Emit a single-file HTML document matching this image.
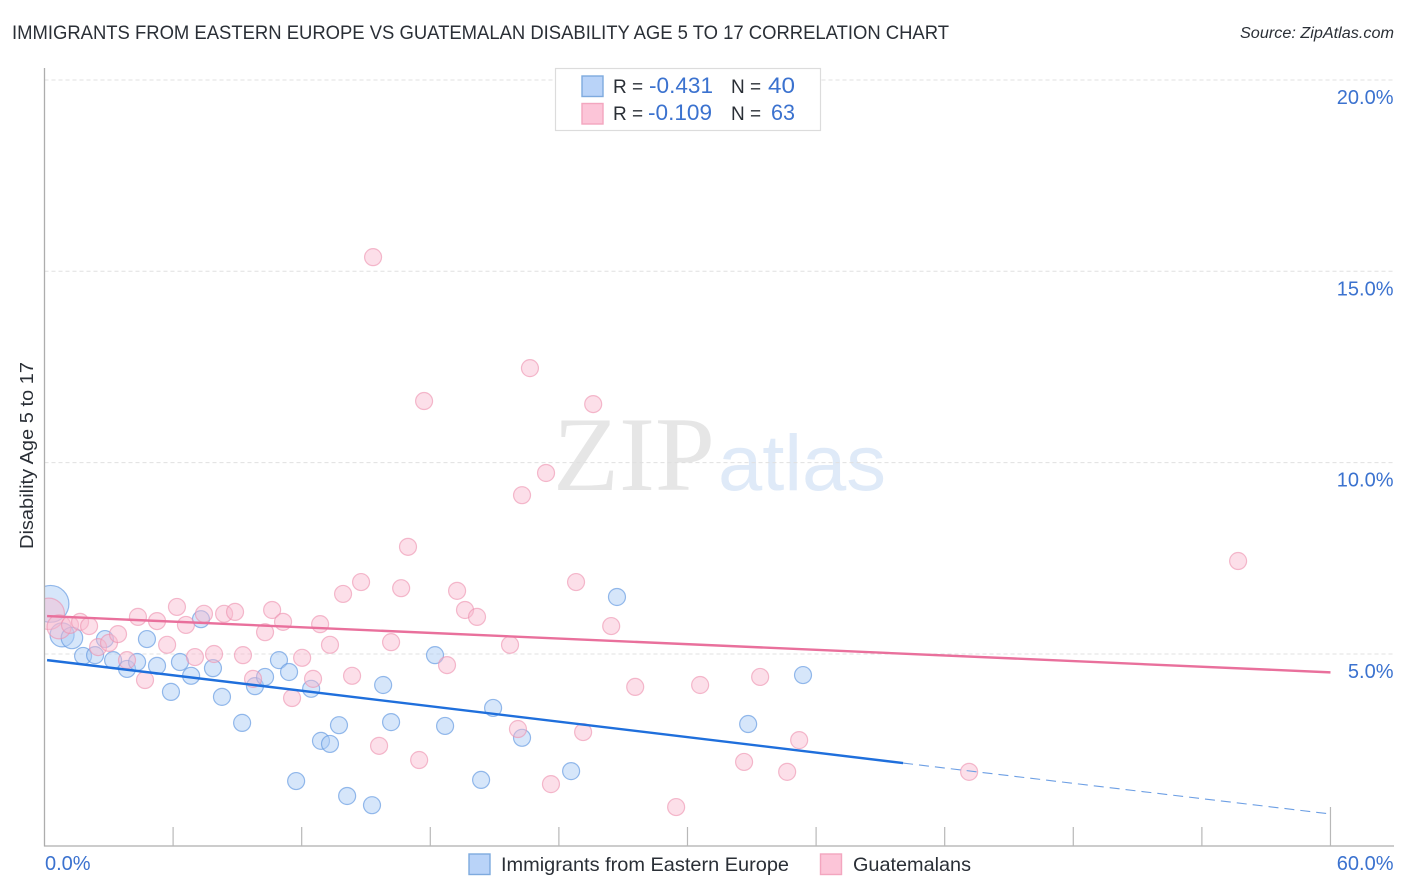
<!DOCTYPE html>
<html>
<head>
<meta charset="utf-8">
<title>Immigrants from Eastern Europe vs Guatemalan Disability Age 5 to 17 Correlation Chart</title>
<style>
html,body{margin:0;padding:0;background:#fff;width:1406px;height:892px;overflow:hidden}
svg{display:block}
text{font-family:"Liberation Sans",sans-serif}
</style>
</head>
<body>
<svg id="chart" width="1406" height="892" viewBox="0 0 1406 892" xmlns="http://www.w3.org/2000/svg">
  <defs>
    <clipPath id="plot-clip"><rect x="45" y="60" width="1349" height="786"/></clipPath>
  </defs>
  <text x="12" y="39" font-size="19.5" fill="#2a2f36" textLength="937" lengthAdjust="spacingAndGlyphs">IMMIGRANTS FROM EASTERN EUROPE VS GUATEMALAN DISABILITY AGE 5 TO 17 CORRELATION CHART</text>
  <text x="1394" y="38" font-size="15.5" font-style="italic" fill="#2a2f36" text-anchor="end" textLength="154" lengthAdjust="spacingAndGlyphs">Source: ZipAtlas.com</text>
  <text x="33" y="455.5" font-size="18" fill="#2a2f36" text-anchor="middle" transform="rotate(-90 33 455.5)" textLength="187" lengthAdjust="spacingAndGlyphs">Disability Age 5 to 17</text>
  <text x="553" y="490" font-size="106" fill="#e6e6e6" textLength="162" lengthAdjust="spacingAndGlyphs" style="font-family:'Liberation Serif',serif">ZIP</text>
  <text x="718" y="490" font-size="79" fill="#dfeaf8" textLength="168" lengthAdjust="spacingAndGlyphs">atlas</text>
  <g id="grid"></g>
  <g id="blue-points" clip-path="url(#plot-clip)"></g>
  <g id="pink-points" clip-path="url(#plot-clip)"></g>
  <g id="axes"></g>
  <g id="trends"></g>
  <g id="labels"></g>

  <g>
    <rect x="555.5" y="68.5" width="265" height="62" fill="#fff" stroke="#dcdcdc" stroke-width="1.2"/>
    <rect x="582" y="76" width="21" height="20.5" fill="#b9d3f8" stroke="#7eaade" stroke-width="1.4"/>
    <text x="613" y="93" font-size="19" fill="#2a2f36">R =</text>
    <text x="649" y="93" font-size="22" fill="#3b72cf" textLength="64" lengthAdjust="spacingAndGlyphs">-0.431</text>
    <text x="731" y="93" font-size="19" fill="#2a2f36">N =</text>
    <text x="768" y="93" font-size="22" fill="#3b72cf" textLength="27" lengthAdjust="spacingAndGlyphs">40</text>
    <rect x="582" y="103.5" width="21" height="20.5" fill="#fcc5d8" stroke="#f3a6bf" stroke-width="1.4"/>
    <text x="613" y="120" font-size="19" fill="#2a2f36">R =</text>
    <text x="648" y="120" font-size="22" fill="#3b72cf" textLength="64" lengthAdjust="spacingAndGlyphs">-0.109</text>
    <text x="731" y="120" font-size="19" fill="#2a2f36">N =</text>
    <text x="771" y="120" font-size="22" fill="#3b72cf" textLength="24" lengthAdjust="spacingAndGlyphs">63</text>
  </g>

  <g>
    <rect x="469" y="854" width="21" height="20.5" fill="#b9d3f8" stroke="#7eaade" stroke-width="1.4"/>
    <text x="501" y="871" font-size="19.5" fill="#2a2f36" textLength="288" lengthAdjust="spacingAndGlyphs">Immigrants from Eastern Europe</text>
    <rect x="820.5" y="854" width="21" height="20.5" fill="#fcc5d8" stroke="#f3a6bf" stroke-width="1.4"/>
    <text x="853" y="871" font-size="19.5" fill="#2a2f36" textLength="118" lengthAdjust="spacingAndGlyphs">Guatemalans</text>
  </g>
</svg>
<script>
// Chart values
const yTicks = [5, 10, 15, 20];
const yTickLabels = ['5.0%', '10.0%', '15.0%', '20.0%'];
const xTicks = [0, 6, 12, 18, 24, 30, 36, 42, 48, 54, 60];
const xEndLabels = ['0.0%', '60.0%'];

const blueX = [0.28,0.82,1.28,1.80,2.36,2.82,3.20,3.85,4.32,4.78,5.25,5.90,6.32,6.84,7.30,7.86,8.28,9.22,9.82,10.29,10.94,11.41,11.74,12.44,12.90,13.32,13.74,14.12,15.28,15.80,16.17,18.22,18.69,20.37,20.93,22.28,24.57,26.71,32.83,35.39];
const blueY = [6.31,5.50,5.42,4.95,4.97,5.39,4.84,4.61,4.79,5.39,4.69,4.01,4.79,4.43,5.91,4.63,3.88,3.20,4.16,4.40,4.84,4.53,1.68,4.09,2.73,2.65,3.14,1.29,1.05,4.19,3.22,4.97,3.12,1.71,3.59,2.81,1.94,6.49,3.17,4.45];
const blueWeight = [4.7,2.0,1.6,1,1,1,1,1,1,1,1,1,1,1,1,1,1,1,1,1,1,1,1,1,1,1,1,1,1,1,1,1,1,1,1,1,1,1,1,1];

const pinkX = [0.20,0.68,1.19,1.66,2.08,2.50,3.01,3.43,3.85,4.36,4.69,5.25,5.72,6.18,6.60,7.02,7.44,7.91,8.38,8.89,9.26,9.73,10.29,10.62,11.13,11.55,12.02,12.53,12.86,13.32,13.93,14.35,14.77,15.33,15.61,16.17,16.64,16.96,17.48,17.71,18.78,19.25,19.62,20.18,21.72,22.09,22.28,22.65,23.40,23.63,24.80,25.13,25.60,26.44,27.56,29.47,30.59,32.64,33.39,34.65,35.21,43.14,55.69];
const pinkY = [6.05,5.71,5.76,5.84,5.73,5.18,5.29,5.52,4.84,5.97,4.32,5.86,5.24,6.23,5.76,4.92,6.05,5.00,6.05,6.10,4.97,4.35,5.57,6.15,5.84,3.85,4.90,4.35,5.78,5.24,6.57,4.43,6.88,15.37,2.60,5.31,6.72,7.80,2.23,11.61,4.71,6.65,6.15,5.97,5.24,3.04,9.15,12.47,9.73,1.60,6.88,2.96,11.53,5.73,4.14,1.00,4.19,2.18,4.40,1.92,2.75,1.92,7.43];
const pinkWeight = [3.4,2.0,1,1,1,1,1,1,1,1,1,1,1,1,1,1,1,1,1,1,1,1,1,1,1,1,1,1,1,1,1,1,1,1,1,1,1,1,1,1,1,1,1,1,1,1,1,1,1,1,1,1,1,1,1,1,1,1,1,1,1,1,1];

const blueTrendX = [0.12, 40.06];
const blueTrendY = [4.84, 2.15];
const blueForecastX = [40.06, 60];
const blueForecastY = [2.15, 0.82];
const pinkTrendX = [0.12, 60];
const pinkTrendY = [5.99, 4.52];

// Axis functions
function xScale(v) { return 44.5 + v * 21.433; }
function yScale(v) { return 654 - (v - 5) * 38.27; }
function rScale(w) { return 8.5 * Math.sqrt(w); }

const NS = 'http://www.w3.org/2000/svg';
function make(tag, parent, attrs, text) {
  const el = document.createElementNS(NS, tag);
  for (const k in attrs) el.setAttribute(k, attrs[k]);
  if (text !== undefined) el.textContent = text;
  parent.appendChild(el);
  return el;
}
const gridG = document.getElementById('grid');
const axesG = document.getElementById('axes');
const labelsG = document.getElementById('labels');
const blueG = document.getElementById('blue-points');
const pinkG = document.getElementById('pink-points');
const trendsG = document.getElementById('trends');

yTicks.forEach(function (t, i) {
  const line = make('line', gridG, {x1: 44.5, x2: 1394, y1: yScale(t), y2: yScale(t), stroke: '#e0e0e0', 'stroke-width': 1, 'stroke-dasharray': '4 3'});
  
  
  const label = make('text', labelsG, {x: 1393.5, y: yScale(t) + 24, 'font-size': 20, fill: '#3b72cf', 'text-anchor': 'end'}, yTickLabels[i]);
  
  
});

const yAxis = make('line', axesG, {x1: 44.5, x2: 44.5, y1: 68, y2: 846.5, stroke: '#adadad', 'stroke-width': 1.3});


const xAxis = make('line', axesG, {x1: 44, x2: 1394, y1: 846, y2: 846, stroke: '#adadad', 'stroke-width': 1.3});



xTicks.slice(1).forEach(function (t, i, arr) {
  const top = i === arr.length - 1 ? 807 : 827;
  const tick = make('line', axesG, {x1: xScale(t), x2: xScale(t), y1: top, y2: 846, stroke: '#b8b8b8', 'stroke-width': 1.2});
  
  
});

const x0Label = make('text', labelsG, {x: 45, y: 870, 'font-size': 20, fill: '#3b72cf'}, xEndLabels[0]);


const x1Label = make('text', labelsG, {x: 1393.5, y: 870, 'font-size': 20, fill: '#3b72cf', 'text-anchor': 'end'}, xEndLabels[1]);



blueX.forEach(function (x, i) {
  const c = make('circle', blueG, {cx: xScale(x), cy: yScale(blueY[i]), r: rScale(blueWeight[i]), fill: '#a9cbf5', 'fill-opacity': 0.48, stroke: '#5f97e0', 'stroke-opacity': 0.65, 'stroke-width': 1.2});
  
  
});
pinkX.forEach(function (x, i) {
  const c = make('circle', pinkG, {cx: xScale(x), cy: yScale(pinkY[i]), r: rScale(pinkWeight[i]), fill: '#f8b9ce', 'fill-opacity': 0.46, stroke: '#ec8fae', 'stroke-opacity': 0.6, 'stroke-width': 1.2});
  
  
});

const pinkLine = make('line', trendsG, {x1: xScale(pinkTrendX[0]), y1: yScale(pinkTrendY[0]), x2: xScale(pinkTrendX[1]), y2: yScale(pinkTrendY[1]), stroke: '#e9709c', 'stroke-width': 2.4});


const blueLine = make('line', trendsG, {x1: xScale(blueTrendX[0]), y1: yScale(blueTrendY[0]), x2: xScale(blueTrendX[1]), y2: yScale(blueTrendY[1]), stroke: '#1f6fdc', 'stroke-width': 2.4});


const blueDash = make('line', trendsG, {x1: xScale(blueForecastX[0]), y1: yScale(blueForecastY[0]), x2: xScale(blueForecastX[1]), y2: yScale(blueForecastY[1]), stroke: '#6d9fe4', 'stroke-width': 1.1, 'stroke-dasharray': '10 6'});


</script>
</body>
</html>
